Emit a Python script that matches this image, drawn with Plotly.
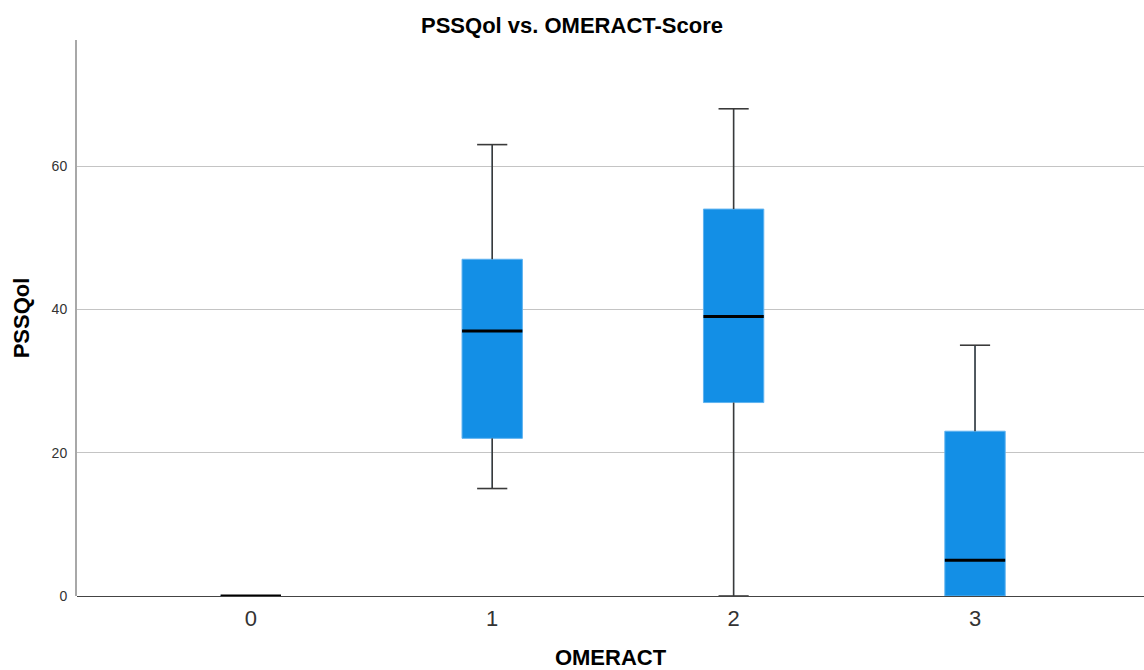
import plotly.graph_objects as go

categories = [0, 1, 2, 3]
q1 = [0, 22, 27, 0]
median = [0, 37, 39, 5]
q3 = [0, 47, 54, 23]
lower = [0, 15, 0, 0]
upper = [0, 63, 68, 35]

BOX_W = 0.25
CAP = BOX_W / 2
FILL = "#138fe6"

fig = go.Figure()

# whiskers (behind boxes)
wx, wy = [], []
for c, a, b, lo, hi in zip(categories, q1, q3, lower, upper):
    if hi > b:
        wx += [c, c, None, c - CAP / 2, c + CAP / 2, None]
        wy += [b, hi, None, hi, hi, None]
    if lo < a:
        wx += [c, c, None, c - CAP / 2, c + CAP / 2, None]
        wy += [a, lo, None, lo, lo, None]
fig.add_trace(go.Scatter(x=wx, y=wy, mode="lines", line=dict(color="#3a3a3a", width=1.6),
                         hoverinfo="skip", showlegend=False, cliponaxis=False))

fig.add_trace(go.Box(
    x=categories, q1=q1, median=median, q3=q3, lowerfence=lower, upperfence=upper,
    fillcolor=FILL, line=dict(color="#5fb3f0", width=1), width=BOX_W, whiskerwidth=0,
    showlegend=False, boxpoints=False,
))

# medians
mx, my = [], []
for c, m in zip(categories, median):
    mx += [c - BOX_W / 2, c + BOX_W / 2, None]
    my += [m, m, None]
fig.add_trace(go.Scatter(x=mx, y=my, mode="lines", line=dict(color="black", width=3),
                         hoverinfo="skip", showlegend=False, cliponaxis=False))

font = "Liberation Sans, Arial, sans-serif"
fig.update_layout(
    width=1144, height=670,
    margin=dict(l=77, r=0, t=40, b=74),
    plot_bgcolor="white", paper_bgcolor="white",
    title=dict(text="<b>PSSQol vs. OMERACT-Score</b>", x=0.5, xanchor="center",
               y=1 - 25 / 670, yanchor="middle", yref="container",
               font=dict(family=font, size=22, color="black")),
    xaxis=dict(range=[-0.72, 3.7], tickmode="array", tickvals=categories,
               ticktext=[str(c) for c in categories], showgrid=False, zeroline=False,
               showline=False, ticks="", ticklabelstandoff=7,
               tickfont=dict(family=font, size=22, color="#333"),
               title=dict(text="<b>OMERACT</b>", font=dict(family=font, size=22, color="black"), standoff=22)),
    yaxis=dict(range=[0, 77.6], tickvals=[0, 20, 40, 60], showgrid=True, gridcolor="#c4c4c4",
               gridwidth=1, zeroline=True, zerolinecolor="#444", zerolinewidth=1,
               showline=True, linecolor="#a8a8a8", linewidth=2, ticks="", ticklabelstandoff=5,
               tickfont=dict(family=font, size=14, color="#333"),
               title=dict(text="<b>PSSQol</b>", font=dict(family=font, size=22, color="black"), standoff=16)),
)

fig.write_html("out.html")
